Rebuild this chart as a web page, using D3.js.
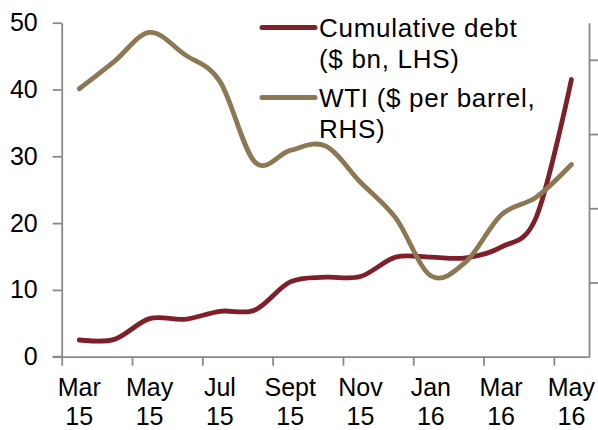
<!DOCTYPE html>
<html>
<head>
<meta charset="utf-8">
<script src="https://cdn.jsdelivr.net/npm/d3@7"></script>
<style>
  html, body { margin: 0; padding: 0; background: #fff; }
  svg { display: block; font-family: "Liberation Sans", Arial, sans-serif; }
</style>
</head>
<body>
<svg id="chart" width="598" height="430"></svg>
<script>
// Months from Mar 2015 to May 2016
const months = ["Mar 15","Apr 15","May 15","Jun 15","Jul 15","Aug 15","Sep 15","Oct 15",
                "Nov 15","Dec 15","Jan 16","Feb 16","Mar 16","Apr 16","May 16"];
// Axis labels shown under every second month (two lines each)
const monthLabels = [["Mar","15"],["May","15"],["Jul","15"],["Sept","15"],
                     ["Nov","15"],["Jan","16"],["Mar","16"],["May","16"]];
// Cumulative debt, $ bn (left axis)
const debt = [2.5, 2.6, 5.7, 5.6, 6.8, 7.0, 11.2, 11.9, 12.0, 14.9, 14.9, 14.8, 16.4, 20.9, 41.5];
// WTI, $ per barrel (right axis)
const wti = [56.1, 59.8, 63.7, 60.7, 57.1, 46.2, 47.8, 48.4, 43.5, 38.7, 30.9, 32.8, 39.1, 41.5, 45.9];
const leftTicks = [0, 10, 20, 30, 40, 50];
const rightTicks = [30, 40, 50, 60];

const svg = d3.select("#chart");
const plotLeft = 61.7, plotRight = 589, plotTop = 22.7, plotBottom = 356.7;
const axisColor = "#898989";
const debtColor = "#7e1f29";
const wtiColor = "#8c7853";

const x = d3.scaleBand().domain(months).range([plotLeft, plotRight]).padding(0);
const xEdge = d3.scaleLinear().domain([0, months.length]).range([plotLeft, plotRight]);
const yL = d3.scaleLinear().domain([0, 50]).range([plotBottom, plotTop]);
const yR = d3.scaleLinear().domain([20, 65]).range([plotBottom, plotTop]);

function styleAxis(g) {
  g.selectAll("path.domain").attr("stroke", axisColor).attr("stroke-width", 1.8);
  g.selectAll(".tick line").attr("stroke", axisColor).attr("stroke-width", 1.8);
  g.selectAll(".tick text").attr("fill", "#000").style("font-size", "25px")
    .style("font-family", "'Liberation Sans', Arial, sans-serif");
}

// Left axis with value labels
svg.append("g").attr("transform", `translate(${plotLeft},0)`)
  .call(d3.axisLeft(yL).tickValues(leftTicks).tickSize(9).tickSizeOuter(0).tickPadding(15))
  .call(styleAxis);

// Right axis, ticks only
svg.append("g").attr("transform", `translate(${plotRight},0)`)
  .call(d3.axisRight(yR).tickValues(rightTicks).tickSize(9).tickSizeOuter(0).tickFormat(""))
  .call(styleAxis);

// Bottom axis: ticks at the boundary before every second month
svg.append("g").attr("transform", `translate(0,${plotBottom})`)
  .call(d3.axisBottom(xEdge).tickValues(d3.range(0, months.length, 2)).tickSize(9).tickSizeOuter(0).tickFormat(""))
  .call(styleAxis);
// extend the baseline to meet the left tick marks
svg.append("line")
  .attr("x1", plotLeft - 9).attr("x2", plotLeft).attr("y1", plotBottom).attr("y2", plotBottom)
  .attr("stroke", axisColor).attr("stroke-width", 1.8);

// Month labels centred on their month
const labelMonths = months.filter((m, i) => i % 2 === 0);
const lbl = svg.append("g").selectAll("text").data(labelMonths).join("text")
  .attr("text-anchor", "middle")
  .attr("fill", "#000")
  .style("font-size", "25px");
lbl.append("tspan").attr("x", d => x(d) + x.bandwidth() / 2).attr("y", 395.5)
  .text((d, i) => monthLabels[i][0]);
lbl.append("tspan").attr("x", d => x(d) + x.bandwidth() / 2).attr("y", 425)
  .text((d, i) => monthLabels[i][1]);

const cx = (d, i) => x(months[i]) + x.bandwidth() / 2;

// Smoothed series lines
const debtLine = d3.line().x(cx).y(d => yL(d)).curve(d3.curveCatmullRom.alpha(0));
const wtiLine = d3.line().x(cx).y(d => yR(d)).curve(d3.curveCatmullRom.alpha(0));

svg.append("path").datum(debt).attr("d", debtLine)
  .attr("fill", "none").attr("stroke", debtColor).attr("stroke-width", 4.8)
  .attr("stroke-linecap", "round").attr("stroke-linejoin", "round");
svg.append("path").datum(wti).attr("d", wtiLine)
  .attr("fill", "none").attr("stroke", wtiColor).attr("stroke-width", 4.8)
  .attr("stroke-linecap", "round").attr("stroke-linejoin", "round");

// Legend
const legend = [
  { color: debtColor, lines: ["Cumulative debt", "($ bn, LHS)"], y: 27.5 },
  { color: wtiColor, lines: ["WTI ($ per barrel,", "RHS)"], y: 97.5 }
];
const lg = svg.append("g").selectAll("g").data(legend).join("g");
lg.append("line")
  .attr("x1", 262).attr("x2", 315).attr("y1", d => d.y).attr("y2", d => d.y)
  .attr("stroke", d => d.color).attr("stroke-width", 5).attr("stroke-linecap", "round");
lg.each(function(d) {
  const t = d3.select(this).append("text").attr("fill", "#000")
    .style("font-size", "26px").style("letter-spacing", "0.7px");
  d.lines.forEach((s, i) => {
    t.append("tspan").attr("x", 319).attr("y", d.y + 9 + i * 31).text(s);
  });
});
</script>
</body>
</html>
